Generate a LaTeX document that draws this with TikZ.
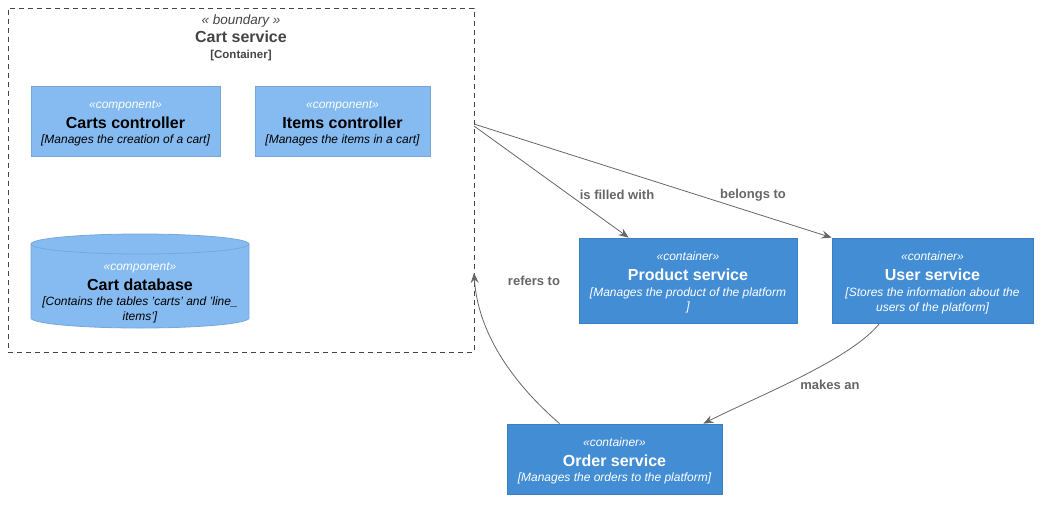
\documentclass[tikz,border=0pt]{standalone}
\usepackage{fontspec}
\setmainfont{Liberation Sans}
\usetikzlibrary{arrows.meta,calc}
\definecolor{compfill}{HTML}{85BBF0}
\definecolor{compdraw}{HTML}{78A8D8}
\definecolor{contfill}{HTML}{438DD5}
\definecolor{contdraw}{HTML}{3C7FC0}
\definecolor{bnd}{HTML}{444444}
\definecolor{relc}{HTML}{666666}
\newcommand{\fsz}[2]{\fontsize{#1}{#2}\selectfont}
\newcommand{\stereo}[1]{{\fsz{12}{14}\itshape «#1»}}
\newcommand{\ttl}[1]{{\fsz{16}{18}\bfseries #1}}
\newcommand{\dsc}[1]{{\fsz{12}{14}\itshape #1}}
% width, height, first baseline, content
\newcommand{\boxtext}[4]{\parbox[c][#2pt][t]{#1pt}{\centering\fsz{12}{20}\rule{0pt}{#3pt}#4\par}}
\begin{document}
\begin{tikzpicture}[x=1pt,y=-1pt,
  comp/.style={draw=compdraw, fill=compfill, line width=0.8pt, inner sep=0pt},
  cont/.style={draw=contdraw, fill=contfill, line width=0.8pt, inner sep=0pt, text=white},
  relarrow/.style={draw=relc, line width=0.8pt, -{Stealth[length=10pt,width=8pt,inset=3.5pt]}},
  lbl/.style={text=relc, font=\fsz{13}{15}\bfseries, inner sep=0pt}]
\useasboundingbox (0,0) rectangle (1043,504);

% boundary
\node[draw=bnd, line width=0.7pt, dash pattern=on 5pt off 4pt, minimum width=466, minimum height=344, inner sep=0pt] (boundary) at (241,180) {};
\node[anchor=north, text=bnd, inner sep=0pt] (btitle) at (241,0)
  {\parbox[c][62pt][t]{220pt}{\centering\fsz{12}{18.7}\rule{0pt}{24pt}{\fsz{13.5}{16}\itshape « boundary »}\\{\fsz{16}{18}\bfseries Cart service}\\[-3.1pt]{\fsz{11.5}{14}\bfseries [Container]}\par}};

% components
\node[comp] (carts) at (125.5,121)
  {\boxtext{189}{70}{22.3}{\textcolor{white}{\stereo{component}}\\\ttl{Carts controller}\\[-5pt]\dsc{[Manages the creation of a cart]}}};
\node[comp] (items) at (342.5,121)
  {\boxtext{175}{70}{22.3}{\textcolor{white}{\stereo{component}}\\\ttl{Items controller}\\[-5pt]\dsc{[Manages the items in a cart]}}};

% cylinder
\fill[compfill] (31,244) -- (31,318) arc[start angle=180, end angle=360, x radius=109pt, y radius=10pt]
  -- (249,244) arc[start angle=0, end angle=180, x radius=109pt, y radius=10pt] -- cycle;
\draw[compdraw, line width=0.8pt] (31,244) -- (31,318) arc[start angle=180, end angle=360, x radius=109pt, y radius=10pt]
  -- (249,244) arc[start angle=0, end angle=180, x radius=109pt, y radius=10pt];
\draw[compdraw, line width=0.8pt] (31,244) arc[start angle=180, end angle=360, x radius=109pt, y radius=10pt];
\node[inner sep=0pt] (cartdb) at (140,281)
  {\boxtext{218}{94}{36}{\textcolor{white}{\stereo{component}}\\\ttl{Cart database}\\[-4.5pt]\dsc{[Contains the tables 'carts' and 'line\_}\\[-5pt]\dsc{items']}}};

% containers
\node[cont] (product) at (688,280.5)
  {\boxtext{218}{85}{22.7}{\stereo{container}\\\ttl{Product service}\\[-4pt]\dsc{[Manages the product of the platform}\\[-6pt]\dsc{]}}};
\node[cont] (user) at (932.5,280.5)
  {\boxtext{201}{85}{22.7}{\stereo{container}\\\ttl{User service}\\[-4pt]\dsc{[Stores the information about the}\\[-5.5pt]\dsc{users of the platform]}}};
\node[cont] (order) at (614.5,459)
  {\boxtext{215}{70}{22.3}{\stereo{container}\\\ttl{Order service}\\[-4.8pt]\dsc{[Manages the orders to the platform]}}};

% boundary anchor points
\coordinate (bA) at (474,126);
\coordinate (bB) at (474,124);
\coordinate (bC) at (474,273);

% relations
\draw[relarrow] (bA) -- ($(product.north west)+(50,0)$);
\draw[relarrow] (bB) -- (user.north west);
\draw[relarrow] ($(order.north west)+(53,0)$) .. controls (515,385) and (478,335) .. (bC);
\draw[relarrow] ($(user.south west)+(48,0)$) .. controls (850,360) and (760,395) .. ($(order.north east)+(-19,0)$);

\node[lbl] (l1) at (617,195) {is filled with};
\node[lbl] (l2) at (753,195) {belongs to};
\node[lbl] (l3) at (534,281) {refers to};
\node[lbl] (l4) at (830,385) {makes an};
\end{tikzpicture}
\end{document}
